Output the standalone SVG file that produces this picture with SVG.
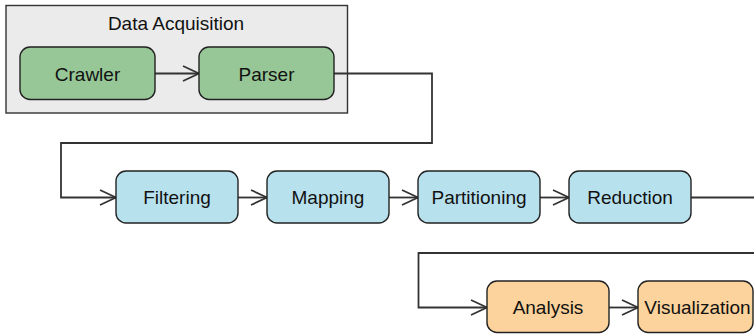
<svg xmlns="http://www.w3.org/2000/svg" width="754" height="335" viewBox="0 0 754 335">
<defs>
<style>
.node rect{stroke:#222;stroke-width:1.4}
.green{fill:#97c797}
.blue{fill:#b8e1ee}
.orange{fill:#fcd39c}
text{font-family:"Liberation Sans",Arial,sans-serif;font-size:19px;fill:#111;text-anchor:middle}
.conn{fill:none;stroke:#333;stroke-width:1.8}
</style>
<marker id="arr" viewBox="0 0 18 18" refX="17" refY="9" markerWidth="18" markerHeight="18" markerUnits="userSpaceOnUse" orient="auto">
<path d="M1,1.5 L17,9 L1,16.5" fill="none" stroke="#333" stroke-width="1.8"/>
</marker>
</defs>
<g id="group-data-acquisition">
<rect x="6" y="5.5" width="341.5" height="107.5" fill="#ebebeb" stroke="#333" stroke-width="1.4"/>
<text x="176" y="30">Data Acquisition</text>
</g>
<g id="connectors">
<path class="conn" d="M155,73.5 H199" marker-end="url(#arr)"/>
<path class="conn" d="M334,73.5 H432 V143 H61 V197.5 H116" marker-end="url(#arr)"/>
<path class="conn" d="M238,197.5 H267" marker-end="url(#arr)"/>
<path class="conn" d="M389,197.5 H418" marker-end="url(#arr)"/>
<path class="conn" d="M540,197.5 H569" marker-end="url(#arr)"/>
<path class="conn" d="M691,197.5 H755"/>
<path class="conn" d="M755,253 H418.5 V307.5 H487" marker-end="url(#arr)"/>
<path class="conn" d="M609,307.5 H638" marker-end="url(#arr)"/>
</g>
<g id="crawler" class="node">
<rect class="green" x="20" y="47" width="135" height="52.5" rx="10"/>
<text x="87.5" y="80.5">Crawler</text>
</g>
<g id="parser" class="node">
<rect class="green" x="199" y="47" width="135" height="52.5" rx="10"/>
<text x="266.5" y="80.5">Parser</text>
</g>
<g id="filtering" class="node">
<rect class="blue" x="116" y="171" width="122" height="52" rx="10"/>
<text x="177" y="204.3">Filtering</text>
</g>
<g id="mapping" class="node">
<rect class="blue" x="267" y="171" width="122" height="52" rx="10"/>
<text x="328" y="204.3">Mapping</text>
</g>
<g id="partitioning" class="node">
<rect class="blue" x="418" y="171" width="122" height="52" rx="10"/>
<text x="479" y="204.3">Partitioning</text>
</g>
<g id="reduction" class="node">
<rect class="blue" x="569" y="171" width="122" height="52" rx="10"/>
<text x="630" y="204.3">Reduction</text>
</g>
<g id="analysis" class="node">
<rect class="orange" x="487" y="281" width="122" height="51.5" rx="10"/>
<text x="548" y="314">Analysis</text>
</g>
<g id="visualization" class="node">
<rect class="orange" x="638" y="281" width="115" height="51.5" rx="10"/>
<text x="697.5" y="314">Visualization</text>
</g>
</svg>
